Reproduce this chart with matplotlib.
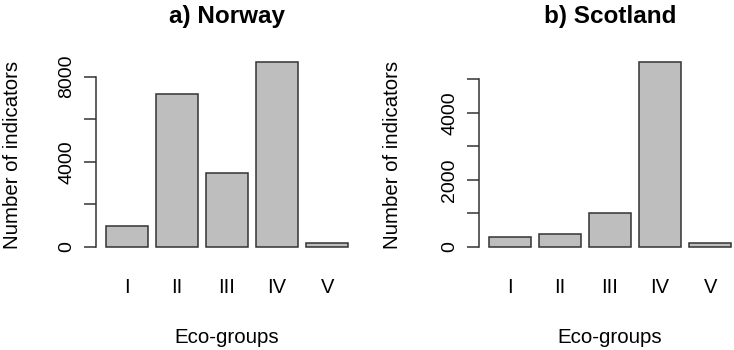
import matplotlib
matplotlib.use("Agg")
import matplotlib.pyplot as plt
import numpy as np

plt.rcParams['font.family'] = ['Liberation Sans', 'DejaVu Sans']

groups = ["I", "II", "III", "IV", "V"]
norway = [970, 7190, 3450, 8690, 160]
scotland = [280, 380, 1015, 5517, 100]

norway_ticks = [0, 2000, 4000, 6000, 8000]
norway_labels = ["0", "", "4000", "", "8000"]
scotland_ticks = [0, 1000, 2000, 3000, 4000, 5000]
scotland_labels = ["0", "", "2000", "", "4000", ""]

fig = plt.figure(figsize=(7.34, 3.5), dpi=100)


def panel(rect, values, ticks, labels, title, ylab_x):
    ax = fig.add_axes(rect)
    n = len(values)
    centers = 0.7 + 1.2 * np.arange(n)
    ax.bar(centers, values, width=1.0, color="#bebebe", edgecolor="#333333", linewidth=1.1)
    # R style axis extents
    lo, hi = 0.2, centers[-1] + 0.5
    ext = 0.04 * (hi - lo)
    ax.set_xlim(lo - ext, hi + ext)
    top = max(values)
    bot = -0.01 * top
    ext = 0.04 * (top - bot)
    ax.set_ylim(bot - ext, top + ext)

    for s in ["top", "right", "bottom"]:
        ax.spines[s].set_visible(False)
    ax.spines["left"].set_bounds(ticks[0], ticks[-1])
    ax.spines["left"].set_color("#333333")
    ax.spines["left"].set_linewidth(1.1)

    ax.set_yticks(ticks)
    ax.set_yticklabels(labels, rotation=90, va="center", fontsize=14)
    ax.tick_params(axis="y", length=9, width=1.1, color="#333333", pad=6)
    ax.set_xticks(centers)
    ax.set_xticklabels(groups, fontsize=14.5)
    ax.tick_params(axis="x", length=0, pad=16)

    ax.set_ylabel("Number of indicators", fontsize=14.7, va="center")
    ax.yaxis.set_label_coords(ylab_x, 0.5)
    ax.set_xlabel("Eco-groups", fontsize=14.8, va="baseline")
    ax.xaxis.set_label_coords(0.5, -0.43)
    ax.set_title(title, fontsize=17.5, fontweight="bold", va="baseline", y=1.158, pad=0)
    return ax


panel([0.1312, 0.2686, 0.3561, 0.5754], norway, norway_ticks, norway_labels,
      "a) Norway", -0.3225)
panel([0.653, 0.2686, 0.3561, 0.5754], scotland, scotland_ticks, scotland_labels,
      "b) Scotland", -0.334)

fig.savefig("out.png", dpi=100)
